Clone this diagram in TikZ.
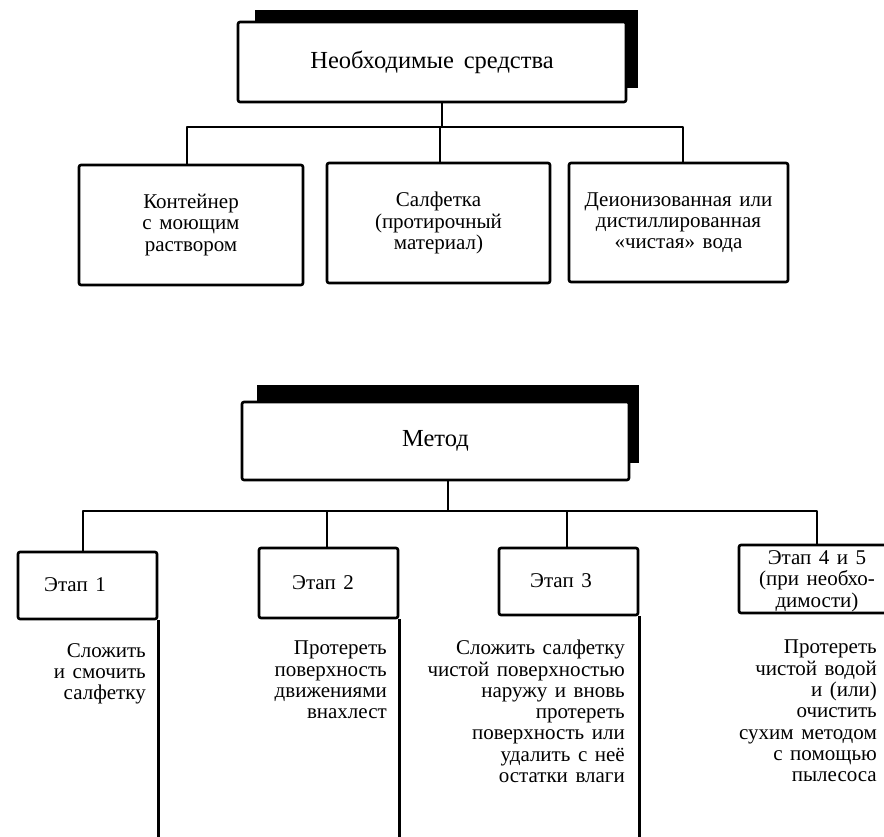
\documentclass[tikz,border=0pt]{standalone}
\usepackage{fontspec}
\setmainfont{Liberation Serif}
\newcommand{\txtfont}{\fontsize{21}{21.3}\selectfont\spaceskip=0.36em plus 0.1em minus 0.05em\relax}
\newcommand{\headfont}{\fontsize{24.5}{26}\selectfont\spaceskip=0.4em\relax}
\begin{document}
\begin{tikzpicture}[x=1pt,y=-1pt,
  box/.style={draw, line width=2.6pt, rounded corners=2pt, fill=white,
    inner sep=0pt, align=center, font=\txtfont},
  conn/.style={line width=2.6pt, line join=round},
  shadowfill/.style={fill=black},
  note/.style={anchor=north east, inner sep=0pt, align=right, font=\txtfont}]
\useasboundingbox (0,0) rectangle (884,837);

% ---- tools ----
\fill[shadowfill] (255,10) rectangle (638,88);
\node[box, font=\headfont, minimum width=388pt, minimum height=80pt] (top) at (432,62) {Необходимые средства};

\node[box, minimum width=224pt, minimum height=120pt] (c1) at (191,225)
  {Контейнер\\с моющим\\раствором};
\node[box, minimum width=223pt, minimum height=120pt] (c2) at (438.5,223)
  {Салфетка\\(протирочный\\материал)};
\node[box, minimum width=219pt, minimum height=119pt] (c3) at (678.5,222.5)
  {Деионизованная или\\дистиллированная\\«чистая» вода};

\coordinate (busT) at (442,127);
\draw[conn] ([xshift=10pt]top.south) -- (busT);
\draw[conn] ([xshift=-4pt]c1.north) |- (busT) -| ([xshift=4.5pt]c3.north);
\draw[conn] ([xshift=1.5pt]c2.north) -- ([xshift=1.5pt]c2.north |- busT);

% ---- method ----
\fill[shadowfill] (257,385) rectangle (639,463);
\node[box, font=\headfont, minimum width=387pt, minimum height=78pt] (method) at (435.5,441) {Метод};

\node[box, minimum width=139pt, minimum height=67pt] (s1) at (87.5,585.5) {};
\node[font=\txtfont, inner sep=0pt] (s1t) at (75,585) {Этап 1};
\node[box, minimum width=139pt, minimum height=70pt] (s2) at (328.5,583) {};
\node[font=\txtfont, inner sep=0pt] (s2t) at (323,583) {Этап 2};
\node[box, minimum width=139pt, minimum height=67pt] (s3) at (568.5,581.5) {};
\node[font=\txtfont, inner sep=0pt] (s3t) at (561,581) {Этап 3};
\node[box, minimum width=156pt, minimum height=68pt] (s4) at (817,579) {};
\node[font=\txtfont, inner sep=0pt, align=center] (s4t) at (817,581)
  {Этап 4 и 5\\(при необхо-\\димости)};

\coordinate (busM) at (448,511);
\coordinate (bot) at (0,840);
\draw[conn] ([xshift=12.5pt]method.south) -- (busM);
\draw[conn] ([xshift=-4.5pt]s1.north) |- (busM) -| (s4.north);
\draw[conn] ([xshift=-1.5pt]s2.north) -- ([xshift=-1.5pt]s2.north |- busM);
\draw[conn] ([xshift=-1.5pt]s3.north) -- ([xshift=-1.5pt]s3.north |- busM);

% side rules running down from each step box
\draw[conn] (s1.south east) -- (s1.south east |- bot);
\draw[conn] (s2.south east) -- (s2.south east |- bot);
\draw[conn] (s3.south east) -- (s3.south east |- bot);

% step descriptions
\node[note] (d1) at (146,643) {Сложить\\и смочить\\салфетку};
\node[note] (d2) at (387,641) {Протереть\\поверхность\\движениями\\внахлест};
\node[note] (d3) at (625,640) {Сложить салфетку\\чистой поверхностью\\наружу и вновь\\протереть\\поверхность или\\удалить с неё\\остатки влаги};
\node[note] (d4) at (877,640) {Протереть\\чистой водой\\и (или)\\очистить\\сухим методом\\с помощью\\пылесоса};
\end{tikzpicture}
\end{document}
